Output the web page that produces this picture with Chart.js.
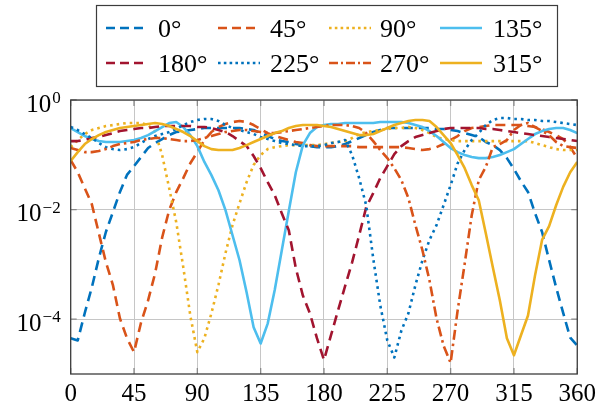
<!DOCTYPE html>
<html><head><meta charset="utf-8">
<script src="https://cdn.jsdelivr.net/npm/chart.js@4/dist/chart.umd.min.js"></script>
<style>html,body{margin:0;padding:0;background:#fff;overflow:hidden}</style>
</head><body>
<canvas id="c" width="601" height="407"></canvas>
<script>
// ---- data ----
const angles = [0,5,10,15,20,25,30,35,40, 45,50,55,60,65,70,75,80,85, 90,95,100,105,110,115,120,125,130,
  135,140,145,150,155,160,165,170,175, 180,185,190,195,200,205,210,215,220, 225,230,235,240,245,250,255,260,265,
  270,275,280,285,290,295,300,305,310, 315,320,325,330,335,340,345,350,355, 360];

const seriesLabels = ['0°','45°','90°','135°','180°','225°','270°','315°'];

const s0 = [4.5e-5,4.1e-5,1.3e-4,3.8e-4,1.3e-3,3.9e-3,9.0e-3,0.021,0.043,
  0.062,0.091,0.133,0.164,0.194,0.229,0.260,0.271,0.283,
  0.295,0.308,0.308,0.308,0.308,0.308,0.308,0.295,0.283,
  0.249,0.220,0.194,0.178,0.171,0.157,0.150,0.144,0.138,
  0.138,0.138,0.144,0.157,0.178,0.202,0.229,0.260,0.283,
  0.308,0.308,0.308,0.308,0.308,0.308,0.308,0.295,0.295,
  0.283,0.271,0.249,0.229,0.211,0.171,0.150,0.122,0.087,
  0.055,0.033,0.021,0.0086,0.0039,0.0012,3.8e-4,1.3e-4,4.6e-5,
  3.3e-5];

const s45 = [0.080,0.048,0.0246,0.0126,0.0037,0.0011,4.2e-4,1.03e-4,4.5e-5,
  2.5e-5,8.7e-5,2.2e-4,6.9e-4,3.1e-3,9.8e-3,0.0208,0.0375,0.070,
  0.112,0.186,0.260,0.321,0.364,0.396,0.413,0.396,0.349,
  0.295,0.249,0.220,0.202,0.186,0.171,0.164,0.150,0.144,
  0.144,0.144,0.144,0.144,0.144,0.138,0.138,0.138,0.138,
  0.138,0.138,0.138,0.133,0.127,0.122,0.127,0.138,0.157,
  0.186,0.220,0.271,0.308,0.321,0.335,0.349,0.349,0.349,
  0.349,0.349,0.335,0.321,0.295,0.260,0.229,0.194,0.138,
  0.087];

const s90 = [0.138,0.186,0.239,0.283,0.308,0.335,0.349,0.364,0.380,
  0.380,0.380,0.349,0.260,0.099,0.0246,0.0059,8.9e-4,1.17e-4,
  2.5e-5,4.5e-5,1.28e-4,4.2e-4,1.6e-3,5.2e-3,0.0131,0.0317,0.065,
  0.099,0.127,0.138,0.144,0.150,0.150,0.150,0.150,0.150,
  0.157,0.164,0.171,0.178,0.202,0.239,0.260,0.271,0.283,
  0.295,0.308,0.308,0.321,0.308,0.283,0.249,0.211,0.194,
  0.186,0.178,0.178,0.178,0.178,0.178,0.178,0.178,0.178,
  0.178,0.178,0.178,0.164,0.150,0.138,0.127,0.122,0.122,
  0.122];

const s135 = [0.308,0.260,0.220,0.194,0.178,0.171,0.171,0.171,0.178,
  0.186,0.202,0.229,0.271,0.321,0.380,0.396,0.321,0.229,
  0.144,0.074,0.0426,0.0226,0.0098,3.4e-3,1.19e-3,3.1e-4,7.1e-5,
  3.6e-5,8.3e-5,3.4e-4,1.8e-3,9.4e-3,0.048,0.150,0.249,0.321,
  0.349,0.364,0.364,0.380,0.380,0.380,0.380,0.380,0.396,
  0.396,0.396,0.396,0.380,0.349,0.321,0.271,0.220,0.171,
  0.133,0.112,0.099,0.091,0.087,0.087,0.091,0.099,0.112,
  0.127,0.157,0.194,0.239,0.271,0.295,0.308,0.308,0.283,
  0.249];

const s180 = [0.178,0.178,0.186,0.202,0.211,0.229,0.249,0.271,0.283,
  0.295,0.308,0.308,0.321,0.335,0.335,0.335,0.335,0.335,
  0.321,0.321,0.308,0.283,0.260,0.220,0.178,0.144,0.095,
  0.057,0.0317,0.0183,0.0086,0.0042,8.5e-4,2.7e-4,1.28e-4,4.5e-5,
  1.8e-5,5.1e-5,1.45e-4,4.0e-4,1.09e-3,3.4e-3,0.011,0.020,0.0375,
  0.062,0.103,0.144,0.178,0.211,0.229,0.249,0.271,0.295,
  0.308,0.308,0.308,0.308,0.308,0.295,0.295,0.283,0.271,
  0.260,0.249,0.239,0.229,0.220,0.211,0.202,0.194,0.186,
  0.178];

const s225 = [0.321,0.283,0.239,0.202,0.164,0.138,0.127,0.122,0.127,
  0.138,0.164,0.194,0.220,0.239,0.260,0.295,0.349,0.396,
  0.431,0.450,0.450,0.413,0.349,0.308,0.283,0.260,0.239,
  0.211,0.194,0.178,0.164,0.157,0.150,0.144,0.144,0.144,
  0.150,0.164,0.171,0.186,0.099,0.0375,0.012,1.29e-3,1.79e-4,
  4.1e-5,2.0e-5,6.2e-5,1.28e-4,4.2e-4,1.19e-3,2.8e-3,5.2e-3,0.012,
  0.0279,0.070,0.122,0.186,0.249,0.349,0.431,0.469,0.469,
  0.450,0.450,0.431,0.431,0.413,0.413,0.396,0.380,0.364,
  0.349];

const s270 = [0.133,0.122,0.112,0.112,0.117,0.127,0.144,0.157,0.164,
  0.171,0.186,0.194,0.202,0.202,0.194,0.186,0.178,0.178,
  0.186,0.202,0.220,0.239,0.260,0.271,0.283,0.283,0.271,
  0.260,0.249,0.249,0.260,0.271,0.283,0.295,0.308,0.321,
  0.335,0.349,0.349,0.349,0.335,0.308,0.249,0.178,0.122,
  0.087,0.057,0.0345,0.0162,5.2e-3,1.8e-3,5.1e-4,1.03e-4,3.3e-5,
  1.6e-5,1.45e-4,1.03e-3,7.9e-3,0.0345,0.060,0.138,0.157,0.186,
  0.283,0.349,0.380,0.321,0.271,0.229,0.171,0.144,0.138,
  0.133];

const s315 = [0.077,0.112,0.157,0.194,0.229,0.260,0.283,0.308,0.321,
  0.335,0.349,0.364,0.380,0.364,0.335,0.295,0.260,0.220,
  0.178,0.144,0.127,0.122,0.122,0.122,0.133,0.150,0.171,
  0.194,0.220,0.249,0.271,0.308,0.335,0.349,0.349,0.349,
  0.335,0.321,0.295,0.271,0.249,0.229,0.229,0.239,0.271,
  0.308,0.349,0.380,0.413,0.431,0.431,0.413,0.321,0.229,
  0.164,0.099,0.057,0.028,0.0148,3.7e-3,8.9e-4,2.2e-4,4.5e-5,
  2.2e-5,5.1e-5,1.17e-4,6.3e-4,2.8e-3,5.0e-3,0.012,0.026,0.048,
  0.074];

const xTickValues = [0,45,90,135,180,225,270,315,360];
const yTickValues = [1e-4,1e-2,1];
const yTickExponents = ['−4','−2','0'];

// ---- styles ----
const seriesValues = [s0,s45,s90,s135,s180,s225,s270,s315];
const colors = ['#0072BD','#D95319','#EDB120','#4DBEEE','#A2142F','#0072BD','#D95319','#EDB120'];
const DASH = [10,6], DOT = [2.6,4], DASHDOT = [10,4,2.5,4], SOLID = [];
const dashes = [DASH, DASH, DOT, SOLID, DASH, DOT, DASHDOT, SOLID];
const legendDashes = [[9,5],[9,5],[2.6,3.2],[],[9,5],[2.6,3.2],[9,3,2,3],[]];
const FONT = '"Liberation Serif", "Times New Roman", serif';

const datasets = seriesValues.map((vals, i) => ({
  label: seriesLabels[i],
  data: angles.map((a, k) => ({x: a, y: vals[k]})),
  borderColor: colors[i],
  backgroundColor: colors[i],
  borderWidth: 2.6,
  borderDash: dashes[i],
  legendDash: legendDashes[i],
  pointRadius: 0,
  fill: false,
  tension: 0,
  borderCapStyle: 'butt',
  borderJoinStyle: 'round',
  order: 7 - i
}));

const framePlugin = {
  id: 'frame',
  afterDatasetsDraw(chart) {
    const {ctx, chartArea: a, scales} = chart;
    const x = scales.x, y = scales.y;
    ctx.save();
    ctx.strokeStyle = '#8a8a8a';
    ctx.lineWidth = 1.3;
    ctx.beginPath();
    xTickValues.forEach(v => {
      const px = x.getPixelForValue(v);
      ctx.moveTo(px, a.bottom); ctx.lineTo(px, a.bottom - 6);
      ctx.moveTo(px, a.top); ctx.lineTo(px, a.top + 6);
    });
    yTickValues.forEach(v => {
      const py = y.getPixelForValue(v);
      ctx.moveTo(a.left, py); ctx.lineTo(a.left + 6, py);
      ctx.moveTo(a.right, py); ctx.lineTo(a.right - 6, py);
    });
    ctx.stroke();
    ctx.strokeStyle = '#3c3c3c';
    ctx.lineWidth = 1.3;
    ctx.strokeRect(a.left, a.top, a.right - a.left, a.bottom - a.top);
    // y tick labels 10^n
    ctx.fillStyle = '#000';
    ctx.textBaseline = 'alphabetic';
    ctx.textAlign = 'left';
    yTickValues.forEach((v, i) => {
      const py = y.getPixelForValue(v);
      ctx.font = '25px ' + FONT;
      const bw = ctx.measureText('10').width;
      ctx.font = '17px ' + FONT;
      const ew = ctx.measureText(yTickExponents[i]).width;
      const right = a.left - 10;
      const start = right - ew - bw - 1;
      ctx.font = '25px ' + FONT;
      ctx.fillText('10', start, py + 11.5);
      ctx.font = '17px ' + FONT;
      ctx.fillText(yTickExponents[i], start + bw + 1, py + 3);
    });
    ctx.restore();
  }
};

const legendPlugin = {
  id: 'legendBox',
  afterDraw(chart) {
    const ctx = chart.ctx;
    const lineX = [106, 218, 329, 440];
    const textX = [158, 270, 380, 493];
    const rowY = [28, 63];
    ctx.save();
    ctx.strokeStyle = '#3c3c3c';
    ctx.lineWidth = 1.2;
    ctx.strokeRect(96.5, 5.5, 461, 81);
    chart.data.datasets.forEach((ds, i) => {
      const col = i % 4, row = Math.floor(i / 4);
      const lx = lineX[col], ly = rowY[row];
      ctx.strokeStyle = ds.borderColor;
      ctx.lineWidth = ds.borderWidth;
      ctx.lineCap = 'butt';
      ctx.setLineDash(ds.legendDash);
      ctx.beginPath();
      ctx.moveTo(lx, ly); ctx.lineTo(lx + 42, ly);
      ctx.stroke();
      ctx.setLineDash([]);
      ctx.fillStyle = '#000';
      ctx.font = '26px ' + FONT;
      ctx.textBaseline = 'alphabetic';
      ctx.textAlign = 'left';
      ctx.fillText(ds.label, textX[col], ly + 8.5);
    });
    ctx.restore();
  }
};

new Chart(document.getElementById('c'), {
  type: 'line',
  data: { datasets },
  options: {
    responsive: false,
    devicePixelRatio: 1,
    animation: false,
    layout: { padding: { top: 100, right: 23, left: 0, bottom: 0 } },
    plugins: { legend: { display: false }, tooltip: { enabled: false } },
    scales: {
      x: {
        type: 'linear', min: 0, max: 360,
        afterBuildTicks: s => { s.ticks = xTickValues.map(v => ({value: v})); },
        afterFit: s => { s.height = 33; },
        ticks: { color: '#000', font: { family: FONT, size: 25 }, padding: 5, maxRotation: 0, autoSkip: false,
                 callback: v => String(v) },
        grid: { color: '#c6c6c6', lineWidth: 1, drawTicks: false },
        border: { display: false }
      },
      y: {
        type: 'logarithmic', min: 1e-5, max: 1,
        afterBuildTicks: s => { s.ticks = yTickValues.map(v => ({value: v})); },
        afterFit: s => { s.width = 70.7; },
        ticks: { display: false },
        grid: { color: '#c6c6c6', lineWidth: 1, drawTicks: false },
        border: { display: false }
      }
    }
  },
  plugins: [framePlugin, legendPlugin]
});
</script>
</body></html>
